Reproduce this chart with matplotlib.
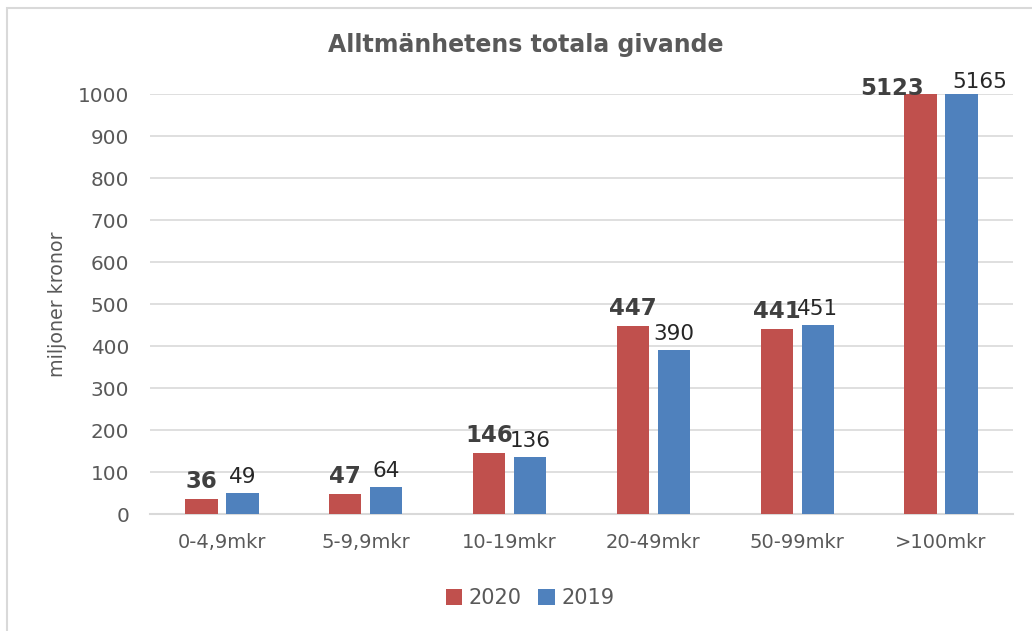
import matplotlib.pyplot as plt
import matplotlib.patches as mpatches
import numpy as np

categories = ['0-4,9mkr', '5-9,9mkr', '10-19mkr', '20-49mkr', '50-99mkr', '>100mkr']
values_2020 = [36, 47, 146, 447, 441, 5123]
values_2019 = [49, 64, 136, 390, 451, 5165]
series_labels = ['2020', '2019']

red = '#C0504D'
blue = '#4F81BD'
text_gray = '#595959'
label_dark = '#404040'

plt.rcParams['font.family'] = 'DejaVu Sans'

W, H = 1032, 631
fig = plt.figure(figsize=(W / 100, H / 100), dpi=100)
ax = fig.add_axes([150 / W, 1 - 514 / H, 863 / W, 420 / H])

# outer light frame (right/bottom run off the image)
fig.patches.append(mpatches.Rectangle((7 / W, -0.05), 1.1, 1 - 8 / H + 0.05,
                                      transform=fig.transFigure, fill=False,
                                      edgecolor='#D9D9D9', linewidth=1.5))

x = np.arange(len(categories))
bw = 0.225
gap = 0.06
off = (bw + gap) / 2
ax.bar(x - off, values_2020, bw, color=red, label=series_labels[0], zorder=3)
ax.bar(x + off, values_2019, bw, color=blue, label=series_labels[1], zorder=3)

ax.set_xlim(-0.5, len(categories) - 0.5)
ax.set_ylim(0, 1000)
ax.set_yticks(range(0, 1001, 100))
ax.set_xticks(x)
ax.set_xticklabels(categories)
ax.grid(axis='y', color='#D9D9D9', linewidth=1.2, zorder=0)
for s in ['top', 'right', 'left']:
    ax.spines[s].set_visible(False)
ax.spines['bottom'].set_color('#D9D9D9')
ax.spines['bottom'].set_linewidth(1.5)
ax.tick_params(length=0, colors=text_gray)
ax.tick_params(axis='x', labelsize=14, pad=14)
ax.tick_params(axis='y', labelsize=14.4, pad=15)
ax.set_ylabel('miljoner kronor', fontsize=13.7, color=text_gray, labelpad=8)

# value labels; the clipped >100mkr pair is nudged sideways like the original
shift_2020 = [0, 0, 0, 0, 0, -0.195]
shift_2019 = [0, 0, 0, 0, 0, 0.125]
lift_2020 = [4.3, 4.3, 4.3, 4.3, 4.3, -4.5]
lift_2019 = [4.3, 4.3, 4.3, 4.3, 4.3, 1.5]
for i in range(len(categories)):
    v20 = min(values_2020[i], 1000)
    v19 = min(values_2019[i], 1000)
    ax.annotate(str(values_2020[i]), (x[i] - off + shift_2020[i], v20),
                xytext=(0, lift_2020[i]), textcoords='offset points', ha='center',
                va='bottom', fontsize=16.5, fontweight='bold', color=label_dark,
                zorder=5, annotation_clip=False)
    ax.annotate(str(values_2019[i]), (x[i] + off + shift_2019[i], v19),
                xytext=(0, lift_2019[i]), textcoords='offset points', ha='center',
                va='bottom', fontsize=15.5, color='#262626', zorder=5,
                annotation_clip=False)

fig.text(526 / W, 1 - 45 / H, 'Alltmänhetens totala givande', ha='center', va='center',
         fontsize=17, fontweight='bold', color=text_gray)

fig.legend(loc='center', bbox_to_anchor=(530 / W, 1 - 598 / H), ncol=2, frameon=False,
           fontsize=15, handlelength=0.8, handleheight=0.8, handletextpad=0.3,
           columnspacing=0.8, labelcolor=text_gray)

fig.savefig('out.png', dpi=100)
